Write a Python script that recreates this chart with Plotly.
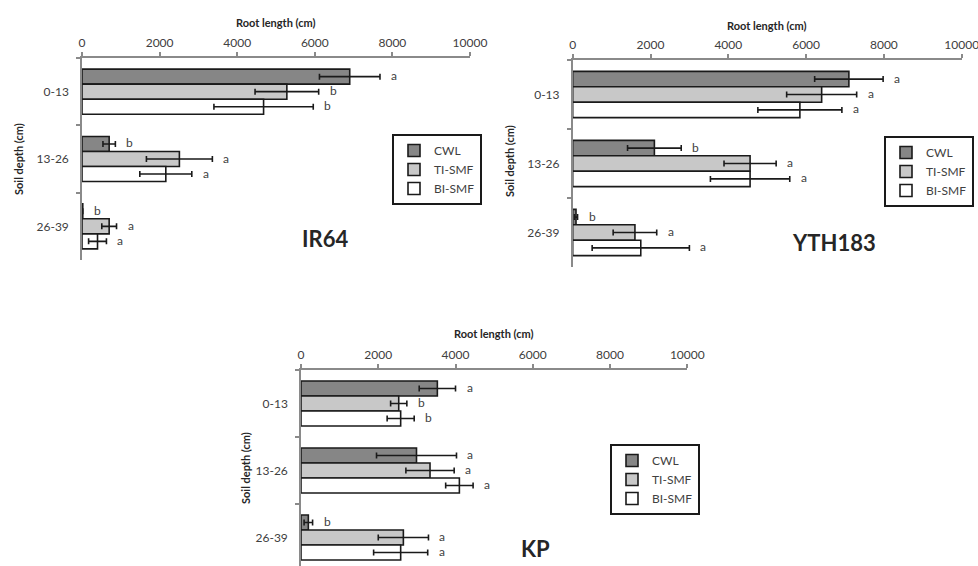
import plotly.graph_objects as go

# ---------------- data ----------------
depths = ["0-13", "13-26", "26-39"]
treatments = ["CWL", "TI-SMF", "BI-SMF"]

ir64_cwl = [6900, 700, 20]
ir64_cwl_err = [780, 160, 0]
ir64_ti = [5280, 2510, 700]
ir64_ti_err = [820, 850, 190]
ir64_bi = [4680, 2160, 400]
ir64_bi_err = [1280, 670, 230]
ir64_letters = [["a", "b", "b"], ["b", "a", "a"], ["b", "a", "a"]]

yth_cwl = [7100, 2100, 85]
yth_cwl_err = [880, 690, 40]
yth_ti = [6400, 4560, 1600]
yth_ti_err = [900, 670, 560]
yth_bi = [5840, 4560, 1750]
yth_bi_err = [1080, 1020, 1250]
yth_letters = [["a", "b", "b"], ["a", "a", "a"], ["a", "a", "a"]]

kp_cwl = [3530, 2990, 190]
kp_cwl_err = [470, 1035, 110]
kp_ti = [2530, 3340, 2650]
kp_ti_err = [210, 625, 650]
kp_bi = [2580, 4100, 2580]
kp_bi_err = [350, 355, 700]
kp_letters = [["a", "a", "b"], ["b", "a", "a"], ["b", "a", "a"]]

x_ticks = [0, 2000, 4000, 6000, 8000, 10000]

# ---------------- style ----------------
W, H = 978, 566
FONT = "Lato"
fills = ["#868686", "#c8c8c8", "#ffffff"]
AXIS_COL = "#8a8a8a"
TXT_COL = "#404040"
BARGAP = 0.33

def fx(p):
    return p / W

def fy(p):
    return 1 - p / H

panels = [
    dict(title="IR64", series=[(ir64_cwl, ir64_cwl_err), (ir64_ti, ir64_ti_err), (ir64_bi, ir64_bi_err)],
         letters=ir64_letters, xdom=(82, 470), ydom=(58, 260), yrange=[2.5, -0.5],
         legend_pos=(392, 134), title_pos=(325, 238), ytitle_x=18, xtitle_y=22),
    dict(title="YTH183", series=[(yth_cwl, yth_cwl_err), (yth_ti, yth_ti_err), (yth_bi, yth_bi_err)],
         letters=yth_letters, xdom=(572.7, 961.7), ydom=(60, 267), yrange=[2.5, -0.5],
         legend_pos=(884, 136), title_pos=(834, 243), ytitle_x=509, xtitle_y=26),
    dict(title="KP", series=[(kp_cwl, kp_cwl_err), (kp_ti, kp_ti_err), (kp_bi, kp_bi_err)],
         letters=kp_letters, xdom=(301, 687.3), ydom=(370, 566), yrange=[2.425, -0.5],
         legend_pos=(610, 444), title_pos=(535, 548), ytitle_x=245, xtitle_y=333),
]

fig = go.Figure()
annotations = []
layout = dict(
    width=W, height=H, margin=dict(l=0, r=0, t=0, b=0, autoexpand=False),
    paper_bgcolor="white", plot_bgcolor="white",
    barmode="group", bargap=BARGAP, bargroupgap=0,
    font=dict(family=FONT, size=12, color=TXT_COL),
    showlegend=True,
)

bar_w = (1 - BARGAP) / 3

for k, p in enumerate(panels):
    sfx = "" if k == 0 else str(k + 1)
    xa, ya = "x" + sfx, "y" + sfx
    leg = "legend" + sfx
    for j, (vals, errs) in enumerate(p["series"]):
        fig.add_trace(go.Bar(
            x=vals, y=depths, orientation="h", name=treatments[j],
            xaxis=xa, yaxis=ya, legend=leg, legendgroup=f"{k}-{j}",
            marker=dict(color=fills[j], line=dict(color="#1a1a1a", width=1.6)),
            error_x=dict(type="data", array=errs, visible=True, color="#1a1a1a", thickness=1.6, width=3),
            hoverinfo="x+y+name",
        ))
        for i in range(3):
            annotations.append(dict(
                x=vals[i] + errs[i], y=i + (j - 1) * bar_w, xref=xa, yref=ya,
                text=p["letters"][j][i], showarrow=False, xanchor="left", yanchor="middle",
                xshift=9, yshift=1, font=dict(family=FONT, size=12, color=TXT_COL),
            ))
    x0, x1 = p["xdom"]
    y0, y1 = p["ydom"]
    layout["xaxis" + sfx] = dict(
        domain=[fx(x0), fx(x1)], anchor=ya, side="top", range=[0, 10000], automargin=False,
        tickvals=x_ticks, ticktext=[str(v) for v in x_ticks], ticklabeloverflow="allow",
        showgrid=False, zeroline=False, showline=True, linecolor=AXIS_COL, linewidth=1.5,
        ticks="outside", ticklen=4, tickwidth=1.5, tickcolor=AXIS_COL,
        tickfont=dict(family=FONT, size=12, color=TXT_COL), fixedrange=True,
    )
    layout["yaxis" + sfx] = dict(
        domain=[max(0, fy(y1)), fy(y0)], anchor=xa, type="category", automargin=False,
        categoryorder="array", categoryarray=depths, range=p["yrange"],
        showgrid=False, zeroline=False, showline=True, linecolor=AXIS_COL, linewidth=1.5,
        ticks="outside", ticklen=4, tickwidth=1.5, tickcolor=AXIS_COL, tickson="boundaries",
        tickfont=dict(family=FONT, size=12, color=TXT_COL), ticklabelstandoff=9, fixedrange=True,
    )
    lx, ly = p["legend_pos"]
    layout[leg] = dict(
        x=fx(lx), y=fy(ly), xanchor="left", yanchor="top", xref="paper", yref="paper",
        bgcolor="white", bordercolor="#1a1a1a", borderwidth=2,
        font=dict(family=FONT, size=12, color=TXT_COL), itemwidth=30,
        tracegroupgap=5, traceorder="normal",
    )
    # axis titles and panel title
    annotations.append(dict(
        x=fx((x0 + x1) / 2), y=fy(p["xtitle_y"]), xref="paper", yref="paper",
        text="<b>Root length (cm)</b>", showarrow=False, xanchor="center", yanchor="middle",
        font=dict(family=FONT, size=11, color="#262626"),
    ))
    annotations.append(dict(
        x=fx(p["ytitle_x"]), y=fy((y0 + min(y1, y0 + 202)) / 2), xref="paper", yref="paper",
        text="<b>Soil depth (cm)</b>", showarrow=False, textangle=-90,
        xanchor="center", yanchor="middle", font=dict(family=FONT, size=11, color="#262626"),
    ))
    tx, ty = p["title_pos"]
    annotations.append(dict(
        x=fx(tx), y=fy(ty), xref="paper", yref="paper", text="<b>" + p["title"] + "</b>",
        showarrow=False, xanchor="center", yanchor="middle",
        font=dict(family=FONT, size=22, color="#262626"),
    ))

layout["annotations"] = annotations
fig.update_layout(**layout)
fig.write_html(
    "out.html",
    config={"displayModeBar": False},
    post_script="document.body.style.margin='0';document.body.style.overflow='hidden';",
)
